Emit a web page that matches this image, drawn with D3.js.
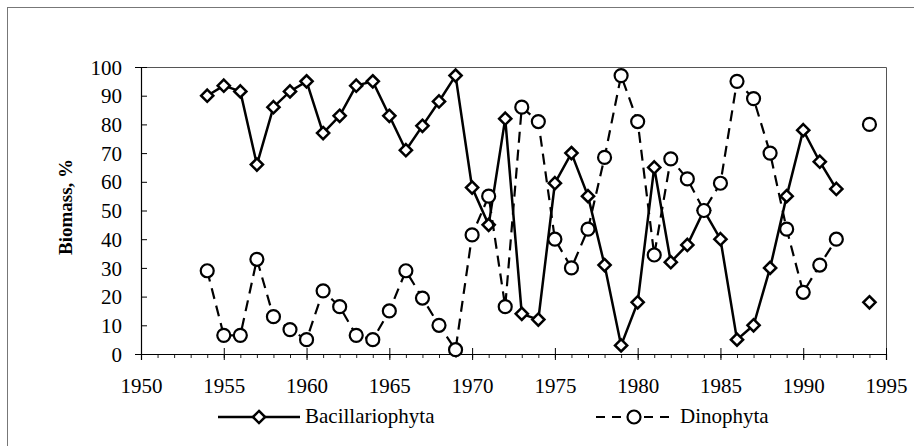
<!DOCTYPE html>
<meta charset="utf-8">
<style>
body { margin: 0; background: white; }
.line { fill: none; stroke: black; }
svg text { font-family: 'Liberation Serif' !important; }
.tick text, .lbl { font-size: 21px !important; fill: black; }
.ttl { font-size: 19px !important; font-weight: bold; }
</style>
<body>
<svg id="chart" width="914" height="446" style="font-family:'Liberation Serif';font-size:21px"></svg>
<script src="https://d3js.org/d3.v7.min.js"></script>
<script>

// data (percent of biomass)
var years = [1954, 1955, 1956, 1957, 1958, 1959, 1960, 1961, 1962, 1963, 1964,
             1965, 1966, 1967, 1968, 1969, 1970, 1971, 1972, 1973, 1974, 1975,
             1976, 1977, 1978, 1979, 1980, 1981, 1982, 1983, 1984, 1985, 1986,
             1987, 1988, 1989, 1990, 1991, 1992, 1993, 1994];
var bacillariophyta = [90, 93.5, 91.5, 66, 86, 91.5, 95, 77, 83, 93.5, 95,
                       83, 71, 79.5, 88, 97, 58, 45, 82, 14, 12, 59.5,
                       70, 55, 31, 3, 18, 65, 32, 38, 50, 40, 5,
                       10, 30, 55, 78, 67, 57.5, null, 18];
var dinophyta = [29, 6.5, 6.5, 33, 13, 8.5, 5, 22, 16.5, 6.5, 5,
                 15, 29, 19.5, 10, 1.5, 41.5, 55, 16.5, 86, 81, 40,
                 30, 43.5, 68.5, 97, 81, 34.5, 68, 61, 50, 59.5, 95,
                 89, 70, 43.5, 21.5, 31, 40, null, 80];
var yTicks = [0, 10, 20, 30, 40, 50, 60, 70, 80, 90, 100];
var xTicks = [1950, 1955, 1960, 1965, 1970, 1975, 1980, 1985, 1990, 1995];
var seriesNames = ["Bacillariophyta", "Dinophyta"];

var W = 914, H = 446;
var margin = {top: 67, right: 28, bottom: 92, left: 141},
    width = W - margin.left - margin.right,
    height = H - margin.top - margin.bottom;

var x = d3.scaleLinear().domain([1950, 1995]).range([0, width]);
var y = d3.scaleLinear().domain([0, 100]).range([height, 0]);

var svg = d3.select("#chart");

// outer frame
svg.append("rect")
    .attr("x", 7.5).attr("y", 7.5)
    .attr("width", W).attr("height", H)
    .attr("fill", "none")
    .attr("stroke", "#777")
    .attr("stroke-width", 1);

var g = svg.append("g")
    .attr("transform", "translate(" + margin.left + "," + margin.top + ")");

// plot area border (top and right)
g.append("path")
    .attr("d", "M0,0.5H" + (width + 0.5) + "V" + height)
    .attr("fill", "none")
    .attr("stroke", "#555")
    .attr("stroke-width", 1);

// minor year ticks on x axis
g.append("g")
    .attr("transform", "translate(0," + height + ")")
    .call(d3.axisBottom(x).tickValues(d3.range(1950, 1996)).tickSize(4).tickFormat(""))
    .call(function(a) { a.select(".domain").remove(); a.selectAll("line").attr("stroke", "#222"); });

// X axis
var xAxis = g.append("g")
    .attr("transform", "translate(0," + height + ")")
    .call(d3.axisBottom(x).tickValues(xTicks).tickFormat(d3.format("d")).tickSizeOuter(0).tickSize(6).tickPadding(18));
xAxis.selectAll(".tick line").attr("y1", -6).attr("stroke", "black");
xAxis.select(".domain").attr("stroke", "black").attr("stroke-width", 1.2);

// Y axis
var yAxis = g.append("g")
    .call(d3.axisLeft(y).tickValues(yTicks).tickSizeOuter(0).tickSize(6).tickPadding(13));
yAxis.selectAll(".tick line").attr("x2", 6).attr("stroke", "black");
yAxis.select(".domain").attr("stroke", "black").attr("stroke-width", 1.2);
yAxis.selectAll(".tick text").attr("dy", "0.34em");

// drop d3's sans-serif default so the svg font is inherited
[xAxis, yAxis].forEach(function(a) {
  a.attr("font-family", null).attr("font-size", null);
});

// y axis title
svg.append("text")
    .attr("class", "ttl")
    .attr("transform", "translate(72," + 207 + ") rotate(-90)")
    .attr("text-anchor", "middle")
    .text("Biomass, %");

var ptsB = years.map(function(d, i) { return {year: d, v: bacillariophyta[i]}; });
var ptsD = years.map(function(d, i) { return {year: d, v: dinophyta[i]}; });

var valueline = d3.line()
    .defined(function(d) { return d.v != null; })
    .x(function(d) { return x(d.year); })
    .y(function(d) { return y(d.v); });

var diamond = d3.symbol().type(d3.symbolDiamond2).size(95);

function drawDiamond(sel) {
  sel.attr("d", diamond)
    .attr("fill", "white")
    .attr("stroke", "black")
    .attr("stroke-width", 2.5)
    .attr("stroke-linejoin", "miter");
}
function drawCircle(sel) {
  sel.attr("r", 6.5)
    .attr("fill", "white")
    .attr("stroke", "black")
    .attr("stroke-width", 2.2);
}

// Bacillariophyta
g.append("path")
    .datum(ptsB)
    .attr("class", "line")
    .attr("stroke-width", 2.5)
    .attr("d", valueline);
g.selectAll(".bac")
    .data(ptsB.filter(function(d) { return d.v != null; }))
  .enter().append("path")
    .attr("class", "bac")
    .attr("transform", function(d) { return "translate(" + x(d.year) + "," + y(d.v) + ")"; })
    .call(drawDiamond);

// Dinophyta
g.append("path")
    .datum(ptsD)
    .attr("class", "line")
    .attr("stroke-width", 2.2)
    .attr("stroke-dasharray", "11,7")
    .attr("d", valueline);
g.selectAll(".din")
    .data(ptsD.filter(function(d) { return d.v != null; }))
  .enter().append("circle")
    .attr("class", "din")
    .attr("cx", function(d) { return x(d.year); })
    .attr("cy", function(d) { return y(d.v); })
    .call(drawCircle);

// legend
var legY = 417;
var leg1 = svg.append("g");
leg1.append("line")
    .attr("x1", 218).attr("x2", 300).attr("y1", legY).attr("y2", legY)
    .attr("stroke", "black").attr("stroke-width", 2.5);
leg1.append("path")
    .attr("transform", "translate(259," + legY + ")")
    .call(drawDiamond);
leg1.append("text")
    .attr("class", "lbl")
    .attr("x", 305).attr("y", legY + 6)
    .text(seriesNames[0]);

var leg2 = svg.append("g");
leg2.append("line")
    .attr("x1", 596).attr("x2", 676).attr("y1", legY).attr("y2", legY)
    .attr("stroke", "black").attr("stroke-width", 2)
    .attr("stroke-dasharray", "9,7");
leg2.append("circle")
    .attr("cx", 634).attr("cy", legY)
    .call(drawCircle);
leg2.append("text")
    .attr("class", "lbl")
    .attr("x", 680).attr("y", legY + 6)
    .text(seriesNames[1]);

</script>
</body>
